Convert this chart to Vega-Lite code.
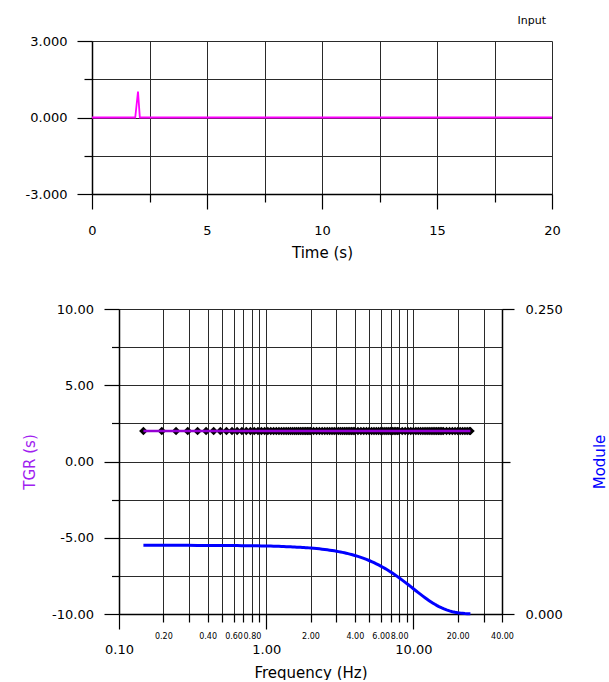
{
  "$schema": "https://vega.github.io/schema/vega-lite/v6.json",
  "padding": {"left": 22, "top": 15, "right": 0, "bottom": 0},
  "spacing": 43,
  "config": {
    "font": "DejaVu Sans",
    "view": {"stroke": null},
    "axis": {
      "domainColor": "#000", "tickColor": "#000", "gridColor": "#2a2a2a", "gridOpacity": 1,
      "labelColor": "#000", "titleColor": "#000", "labelFont": "DejaVu Sans", "titleFont": "DejaVu Sans",
      "titleFontWeight": "normal", "domainWidth": 1.5, "tickWidth": 1.2, "gridWidth": 1,
      "labelFlush": false, "labelOverlap": false, "labelBound": false
    }
  },
  "datasets": {
    "input": [
      {"t": 0, "v": 0}, {"t": 1.88, "v": 0}, {"t": 2.0, "v": 1.02}, {"t": 2.08, "v": 0}, {"t": 20, "v": 0}
    ],
    "spec": [
      {"f": 0.1465, "tgr": 2, "mod": 0.0563}, {"f": 0.1953, "tgr": 2, "mod": 0.0563}, {"f": 0.2441, "tgr": 2, "mod": 0.0563},
      {"f": 0.2930, "tgr": 2, "mod": 0.0563}, {"f": 0.3418, "tgr": 2, "mod": 0.0562}, {"f": 0.3906, "tgr": 2, "mod": 0.0562},
      {"f": 0.4395, "tgr": 2, "mod": 0.0562}, {"f": 0.4883, "tgr": 2, "mod": 0.0562}, {"f": 0.5371, "tgr": 2, "mod": 0.0561},
      {"f": 0.5859, "tgr": 2, "mod": 0.0561}, {"f": 0.6348, "tgr": 2, "mod": 0.0561}, {"f": 0.6836, "tgr": 2, "mod": 0.0560},
      {"f": 0.7324, "tgr": 2, "mod": 0.0560}, {"f": 0.7813, "tgr": 2, "mod": 0.0560}, {"f": 0.8301, "tgr": 2, "mod": 0.0559},
      {"f": 0.8789, "tgr": 2, "mod": 0.0559}, {"f": 0.9277, "tgr": 2, "mod": 0.0558}, {"f": 0.9766, "tgr": 2, "mod": 0.0558},
      {"f": 1.0254, "tgr": 2, "mod": 0.0557}, {"f": 1.0742, "tgr": 2, "mod": 0.0557}, {"f": 1.1230, "tgr": 2, "mod": 0.0556},
      {"f": 1.1719, "tgr": 2, "mod": 0.0555}, {"f": 1.2207, "tgr": 2, "mod": 0.0555}, {"f": 1.2695, "tgr": 2, "mod": 0.0554},
      {"f": 1.3184, "tgr": 2, "mod": 0.0553}, {"f": 1.3672, "tgr": 2, "mod": 0.0552}, {"f": 1.4160, "tgr": 2, "mod": 0.0552},
      {"f": 1.4648, "tgr": 2, "mod": 0.0551}, {"f": 1.5137, "tgr": 2, "mod": 0.0550}, {"f": 1.5625, "tgr": 2, "mod": 0.0549},
      {"f": 1.6113, "tgr": 2, "mod": 0.0548}, {"f": 1.6602, "tgr": 2, "mod": 0.0548}, {"f": 1.7090, "tgr": 2, "mod": 0.0547},
      {"f": 1.7578, "tgr": 2, "mod": 0.0546}, {"f": 1.8066, "tgr": 2, "mod": 0.0545}, {"f": 1.8555, "tgr": 2, "mod": 0.0544},
      {"f": 1.9043, "tgr": 2, "mod": 0.0543}, {"f": 1.9531, "tgr": 2, "mod": 0.0542},
      {"f": 2.0, "tgr": 2, "mod": 0.05409}, {"f": 2.1, "tgr": 2, "mod": 0.05387}, {"f": 2.2, "tgr": 2, "mod": 0.05364},
      {"f": 2.3, "tgr": 2, "mod": 0.0534}, {"f": 2.4, "tgr": 2, "mod": 0.05315}, {"f": 2.5, "tgr": 2, "mod": 0.05289},
      {"f": 2.6, "tgr": 2, "mod": 0.05262}, {"f": 2.7, "tgr": 2, "mod": 0.05234}, {"f": 2.8, "tgr": 2, "mod": 0.05205},
      {"f": 2.9, "tgr": 2, "mod": 0.05176}, {"f": 3.0, "tgr": 2, "mod": 0.05145}, {"f": 3.1, "tgr": 2, "mod": 0.05114},
      {"f": 3.2, "tgr": 2, "mod": 0.05082}, {"f": 3.3, "tgr": 2, "mod": 0.05049}, {"f": 3.4, "tgr": 2, "mod": 0.05015},
      {"f": 3.5, "tgr": 2, "mod": 0.04981}, {"f": 3.6, "tgr": 2, "mod": 0.04946}, {"f": 3.7, "tgr": 2, "mod": 0.0491},
      {"f": 3.8, "tgr": 2, "mod": 0.04873}, {"f": 3.9, "tgr": 2, "mod": 0.04836}, {"f": 4.0, "tgr": 2, "mod": 0.04797},
      {"f": 4.2, "tgr": 2, "mod": 0.0472}, {"f": 4.4, "tgr": 2, "mod": 0.04639}, {"f": 4.6, "tgr": 2, "mod": 0.04556},
      {"f": 4.8, "tgr": 2, "mod": 0.04471}, {"f": 5.0, "tgr": 2, "mod": 0.04385}, {"f": 5.2, "tgr": 2, "mod": 0.04296},
      {"f": 5.4, "tgr": 2, "mod": 0.04206}, {"f": 5.6, "tgr": 2, "mod": 0.04114}, {"f": 5.8, "tgr": 2, "mod": 0.04022},
      {"f": 6.0, "tgr": 2, "mod": 0.03928}, {"f": 6.2, "tgr": 2, "mod": 0.03834}, {"f": 6.4, "tgr": 2, "mod": 0.03738},
      {"f": 6.6, "tgr": 2, "mod": 0.03642}, {"f": 6.8, "tgr": 2, "mod": 0.03546}, {"f": 7.0, "tgr": 2, "mod": 0.03449},
      {"f": 7.2, "tgr": 2, "mod": 0.03353}, {"f": 7.4, "tgr": 2, "mod": 0.03256}, {"f": 7.6, "tgr": 2, "mod": 0.0316},
      {"f": 7.8, "tgr": 2, "mod": 0.03064}, {"f": 8.0, "tgr": 2, "mod": 0.02969}, {"f": 8.4, "tgr": 2, "mod": 0.0278},
      {"f": 8.8, "tgr": 2, "mod": 0.02595}, {"f": 9.2, "tgr": 2, "mod": 0.02415}, {"f": 9.6, "tgr": 2, "mod": 0.0224},
      {"f": 10.0, "tgr": 2, "mod": 0.02071}, {"f": 10.4, "tgr": 2, "mod": 0.01909}, {"f": 10.8, "tgr": 2, "mod": 0.01754},
      {"f": 11.2, "tgr": 2, "mod": 0.01606}, {"f": 11.6, "tgr": 2, "mod": 0.01466}, {"f": 12.0, "tgr": 2, "mod": 0.01334},
      {"f": 12.4, "tgr": 2, "mod": 0.0121}, {"f": 12.8, "tgr": 2, "mod": 0.01094}, {"f": 13.2, "tgr": 2, "mod": 0.00986},
      {"f": 13.6, "tgr": 2, "mod": 0.00886}, {"f": 14.0, "tgr": 2, "mod": 0.00793}, {"f": 14.4, "tgr": 2, "mod": 0.00708},
      {"f": 14.8, "tgr": 2, "mod": 0.0063}, {"f": 15.2, "tgr": 2, "mod": 0.00559}, {"f": 15.6, "tgr": 2, "mod": 0.00494},
      {"f": 16.0, "tgr": 2, "mod": 0.00435}, {"f": 16.8, "tgr": 2, "mod": 0.00335}, {"f": 17.6, "tgr": 2, "mod": 0.00254},
      {"f": 18.4, "tgr": 2, "mod": 0.00191}, {"f": 19.2, "tgr": 2, "mod": 0.00141}, {"f": 20.0, "tgr": 2, "mod": 0.00103},
      {"f": 20.8, "tgr": 2, "mod": 0.00074}, {"f": 21.6, "tgr": 2, "mod": 0.00053}, {"f": 22.4, "tgr": 2, "mod": 0.00037},
      {"f": 23.2, "tgr": 2, "mod": 0.00026}, {"f": 24.0, "tgr": 2, "mod": 0.00018}, {"f": 24.4, "tgr": 2, "mod": 0.00015}
    ]
  },
  "vconcat": [
    {
      "width": 460,
      "height": 153,
      "title": {"text": "Input", "anchor": "end", "frame": "group", "fontSize": 11, "fontWeight": "normal", "offset": 9, "dx": -6, "color": "#000"},
      "data": {"name": "input"},
      "mark": {"type": "line", "color": "#ff00ff", "strokeWidth": 1.8},
      "encoding": {
        "x": {
          "field": "t", "type": "quantitative",
          "scale": {"domain": [0, 20], "nice": false, "zero": false},
          "axis": {
            "values": [0, 2.5, 5, 7.5, 10, 12.5, 15, 17.5, 20],
            "labelExpr": "datum.value % 5 == 0 ? format(datum.value, 'd') : ''",
            "tickSize": {"condition": {"test": "datum.value % 5 == 0", "value": 15}, "value": 8},
            "labelPadding": 15, "labelFontSize": 13,
            "title": "Time (s)", "titleFontSize": 15, "titlePadding": 8, "grid": true
          }
        },
        "y": {
          "field": "v", "type": "quantitative",
          "scale": {"domain": [-3, 3], "nice": false},
          "axis": {
            "values": [-3, -1.5, 0, 1.5, 3],
            "labelExpr": "datum.value % 3 == 0 ? replace(format(datum.value, '.3f'), '\u2212', '-') : ''",
            "tickSize": {"condition": {"test": "datum.value % 3 == 0", "value": 15}, "value": 8},
            "labelPadding": 10, "labelFontSize": 13, "title": null, "grid": true
          }
        }
      }
    },
    {
      "width": 410,
      "height": 305,
      "data": {"name": "spec"},
      "layer": [
        {
          "mark": {"type": "line", "color": "#0000ff", "strokeWidth": 3},
          "encoding": {
            "x": {
              "field": "f", "type": "quantitative",
              "scale": {"type": "log", "domain": [0.1, 40], "range": [27, 410], "nice": false},
              "axis": {
                "values": [0.1, 0.2, 0.3, 0.4, 0.5, 0.6, 0.7, 0.8, 0.9, 1, 2, 3, 4, 5, 6, 7, 8, 9, 10, 20, 30, 40],
                "labelExpr": "(datum.value == 0.1 || datum.value == 1 || datum.value == 10 || indexof([0.2, 0.4, 0.6, 0.8, 2, 4, 6, 8, 20, 40], datum.value) >= 0) ? format(datum.value, '.2f') : ''",
                "labelFontSize": {"condition": {"test": "datum.value == 0.1 || datum.value == 1 || datum.value == 10", "value": 13}, "value": 8},
                "labelPadding": {"condition": {"test": "datum.value == 0.1 || datum.value == 1 || datum.value == 10", "value": 14}, "value": 10},
                "tickSize": {"condition": {"test": "datum.value == 0.1 || datum.value == 1 || datum.value == 10", "value": 15}, "value": 8},
                "title": "Frequency (Hz)", "titleFontSize": 15, "titlePadding": 9, "grid": true
              }
            },
            "y": {
              "field": "mod", "type": "quantitative",
              "scale": {"domain": [0, 0.25], "nice": false},
              "axis": {
                "orient": "right",
                "values": [0, 0.125, 0.25],
                "labelExpr": "datum.value == 0.125 ? '' : format(datum.value, '.3f')",
                "tickSize": {"condition": {"test": "datum.value == 0.125", "value": 8}, "value": 12},
                "labelPadding": 11, "labelFontSize": 13, "grid": false,
                "title": "Module", "titleColor": "#0000ff", "titleFontSize": 15,
                "titleAngle": 270, "titleBaseline": "top", "titlePadding": 30
              }
            }
          }
        },
        {
          "encoding": {
            "x": {"field": "f", "type": "quantitative", "scale": {"type": "log", "domain": [0.1, 40], "range": [27, 410], "nice": false}},
            "y": {
              "field": "tgr", "type": "quantitative",
              "scale": {"domain": [-10, 10], "nice": false},
              "axis": {
                "orient": "left", "offset": -27,
                "values": [-10, -7.5, -5, -2.5, 0, 2.5, 5, 7.5, 10],
                "labelExpr": "datum.value % 5 == 0 ? replace(format(datum.value, '.2f'), '\u2212', '-') : ''",
                "tickSize": {"condition": {"test": "datum.value % 5 == 0", "value": 15}, "value": 7.5},
                "labelPadding": 10.5, "labelFontSize": 13,
                "title": "TGR (s)", "titleColor": "#a020f0", "titleFontSize": 15, "titlePadding": 14, "grid": true
              }
            }
          },
          "layer": [
            {"mark": {"type": "point", "shape": "diamond", "filled": true, "color": "#000", "size": 75, "opacity": 1}},
            {"mark": {"type": "line", "color": "#9400d3", "strokeWidth": 2.5}}
          ]
        }
      ],
      "resolve": {"scale": {"y": "independent"}}
    }
  ]
}
